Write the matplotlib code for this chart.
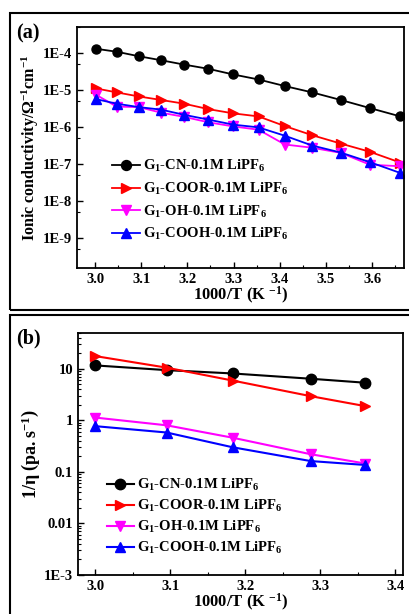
import matplotlib
matplotlib.use("Agg")
import matplotlib.pyplot as plt
from matplotlib.patches import Rectangle
from matplotlib.ticker import LogLocator, NullFormatter, FixedLocator, MultipleLocator

plt.rcParams['font.family'] = ['Liberation Serif', 'DejaVu Serif']
plt.rcParams['font.weight'] = 'bold'
plt.rcParams['axes.labelweight'] = 'bold'
plt.rcParams['mathtext.fontset'] = 'custom'
plt.rcParams['mathtext.rm'] = 'Liberation Serif:bold'
plt.rcParams['mathtext.it'] = 'Liberation Serif:bold'
plt.rcParams['mathtext.bf'] = 'Liberation Serif:bold'

## Data

labels = [r"G$_1$-CN-0.1M LiPF$_6$", r"G$_1$-COOR-0.1M LiPF$_6$",
          r"G$_1$-OH-0.1M LiPF$_6$", r"G$_1$-COOH-0.1M LiPF$_6$"]
colors = ["black", "red", "magenta", "blue"]
markers = ["o", ">", "v", "^"]

# panel (a): ionic conductivity
x_a = [3.0016, 3.047, 3.0945, 3.143, 3.193, 3.245, 3.299, 3.354, 3.411, 3.470, 3.532, 3.595, 3.661]
cn_a = [1.29e-4, 1.07e-4, 8.1e-5, 6.3e-5, 4.8e-5, 3.7e-5, 2.6e-5, 1.9e-5, 1.26e-5, 8.5e-6, 5.3e-6, 3.2e-6, 1.9e-6]
coor_a = [1.09e-5, 8.5e-6, 6.6e-6, 5.3e-6, 4.2e-6, 3.0e-6, 2.3e-6, 1.9e-6, 1.04e-6, 5.9e-7, 3.5e-7, 2.1e-7, 1.07e-7]
oh_a = [7.4e-6, 3.5e-6, 3.4e-6, 2.4e-6, 1.85e-6, 1.32e-6, 1.02e-6, 8.3e-7, 3.3e-7, 2.7e-7, 1.96e-7, 9.4e-8, 8.5e-8]
cooh_a = [5.6e-6, 4.2e-6, 3.4e-6, 2.9e-6, 2.1e-6, 1.56e-6, 1.14e-6, 9.6e-7, 5.7e-7, 3.1e-7, 2.0e-7, 1.1e-7, 5.6e-8]

# panel (b): 1/viscosity
x_b = [3.0, 3.095, 3.183, 3.287, 3.36]
cn_b = [11.6, 9.4, 8.1, 6.4, 5.35]
coor_b = [17.6, 10.5, 5.9, 2.94, 1.88]
oh_b = [1.13, 0.80, 0.46, 0.22, 0.145]
cooh_b = [0.77, 0.58, 0.30, 0.162, 0.136]

## Figure

fig = plt.figure(figsize=(4.09, 6.14), dpi=100)
W, H = 409, 614

# panel frames
fig.patches.append(Rectangle((10 / W, 1 - 310 / H), 1.2, 297 / H, transform=fig.transFigure,
                             fill=False, lw=1.5, ec="black"))
fig.patches.append(Rectangle((10 / W, -0.01), 1.2, 1 - 315 / H + 0.01, transform=fig.transFigure,
                             fill=False, lw=1.5, ec="black"))

ax1 = fig.add_axes([77 / W, 1 - 268 / H, 327 / W, 241 / H])
ax2 = fig.add_axes([78 / W, 1 - 575 / H, 325 / W, 242.3 / H])

for ys, c, m, lab in zip([cn_a, coor_a, oh_a, cooh_a], colors, markers, labels):
    ax1.plot(x_a, ys, color=c, marker=m, ms=6.5, lw=1.3, label=lab)
for ys, c, m, lab in zip([cn_b, coor_b, oh_b, cooh_b], colors, markers, labels):
    ax2.plot(x_b, ys, color=c, marker=m, ms=7.5, lw=1.5, label=lab)

ax1.set_yscale("log")
ax1.set_xlim(2.961, 3.669)
ax1.set_ylim(1.5e-10, 5e-4)
ax1.set_yticks([1e-4, 1e-5, 1e-6, 1e-7, 1e-8, 1e-9])
ax1.set_yticklabels(["1E-4", "1E-5", "1E-6", "1E-7", "1E-8", "1E-9"])
ax1.yaxis.set_minor_locator(LogLocator(base=10, subs=[5]))
ax1.yaxis.set_minor_formatter(NullFormatter())
ax1.xaxis.set_major_locator(FixedLocator([3.0, 3.1, 3.2, 3.3, 3.4, 3.5, 3.6]))
ax1.xaxis.set_minor_locator(MultipleLocator(0.05))
ax1.set_xlabel(r"1000/T (K $^{-1}$)", fontsize=12, labelpad=-1)
ax1.set_ylabel(r"Ionic conductivity/$\Omega^{-1}$cm$^{-1}$", fontsize=11.5, labelpad=1)

ax2.set_yscale("log")
ax2.set_xlim(2.977, 3.41)
ax2.set_ylim(1e-3, 50)
ax2.set_yticks([10, 1, 0.1, 0.01, 1e-3])
ax2.set_yticklabels(["10", "1", "0.1", "0.01", "1E-3"])
ax2.yaxis.set_minor_locator(LogLocator(base=10, subs=[2, 3, 4, 5, 6, 7, 8, 9]))
ax2.yaxis.set_minor_formatter(NullFormatter())
ax2.xaxis.set_major_locator(FixedLocator([3.0, 3.1, 3.2, 3.3, 3.4]))
ax2.xaxis.set_minor_locator(MultipleLocator(0.05))
ax2.set_xlabel(r"1000/T (K $^{-1}$)", fontsize=12, labelpad=-1)
ax2.set_ylabel(r"1/$\eta$ $\left(\mathrm{pa.s}^{-1}\right)$", fontsize=13, labelpad=1)

for ax in (ax1, ax2):
    ax.tick_params(which="both", direction="in", labelsize=10.5, top=False, right=False)
    ax.tick_params(which="major", length=4, width=1)
    ax.tick_params(which="minor", length=2, width=0.8)
    for s in ax.spines.values():
        s.set_linewidth(1.3)

ax1.legend(loc="upper left", bbox_to_anchor=(0.09, 0.48), frameon=False, fontsize=10.5,
           handlelength=1.9, handletextpad=0.2, labelspacing=0.45, borderaxespad=0,
           markerscale=1.1)
ax2.legend(loc="upper left", bbox_to_anchor=(0.07, 0.43), frameon=False, fontsize=10.5,
           handlelength=1.9, handletextpad=0.2, labelspacing=0.35, borderaxespad=0,
           markerscale=1.0)

fig.text(16 / W, 1 - 33 / H, "(a)", fontsize=14.5, fontweight="bold", va="center")
fig.text(16 / W, 1 - 338 / H, "(b)", fontsize=14.5, fontweight="bold", va="center")

fig.savefig("out.png", dpi=100)
